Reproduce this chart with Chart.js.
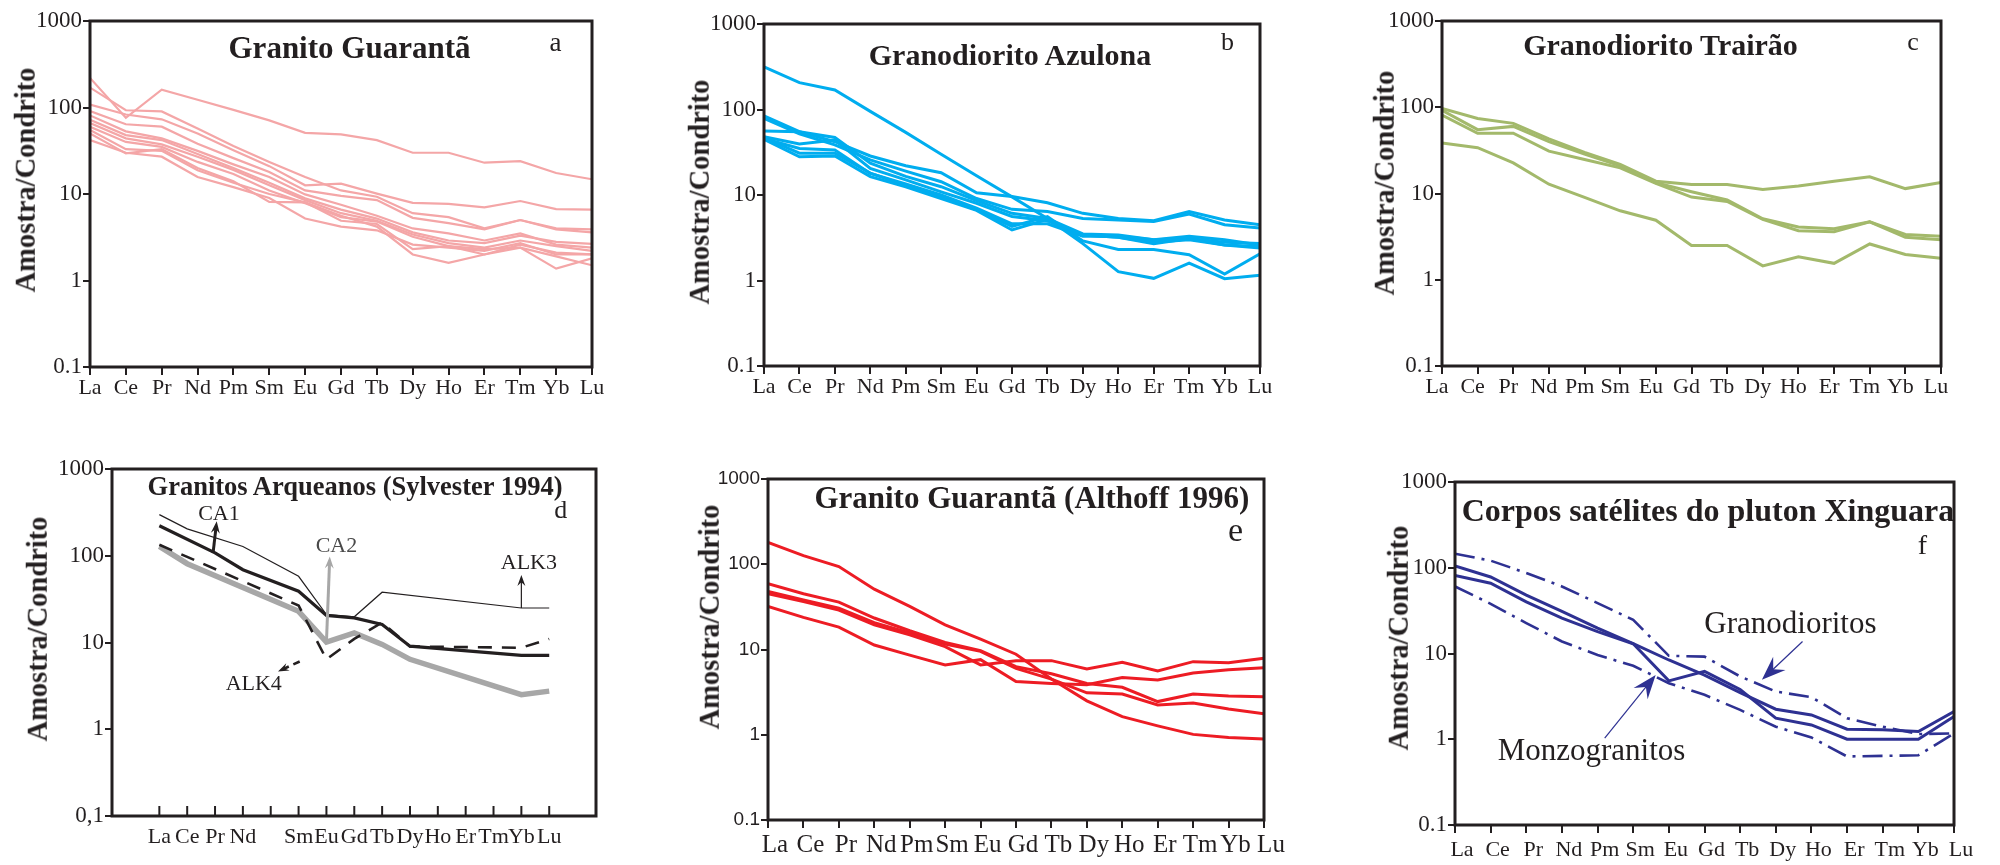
<!DOCTYPE html>
<html lang="pt">
<head>
<meta charset="utf-8">
<title>Padrões de ETR normalizados ao condrito</title>
<script src="https://cdn.jsdelivr.net/npm/chart.js@4.4.1/dist/chart.umd.min.js"></script>
<style>
  html, body { margin: 0; padding: 0; background: #fff; }
  body { width: 2000px; height: 865px; position: relative; overflow: hidden; }
  .panel { position: absolute; }
  .panel canvas { display: block; }
  .txt {
    position: absolute; white-space: nowrap; line-height: 1; color: #231f20;
    font-family: "Liberation Serif", "Times New Roman", Times, serif;
    transform: translate(-50%, -50%);
  }
  .txt.bold { font-weight: bold; }
  .txt.vert { transform: translate(-50%, -50%) rotate(-90deg); font-weight: bold; }
</style>
</head>
<body>
<script>
// ---- Rare earth elements (x categories) and y-axis decades ----
const REE = ['La', 'Ce', 'Pr', 'Nd', 'Pm', 'Sm', 'Eu', 'Gd', 'Tb', 'Dy', 'Ho', 'Er', 'Tm', 'Yb', 'Lu'];
const REE_SYLVESTER = ['La', 'Ce', 'Pr', 'Nd', '', 'Sm', 'Eu', 'Gd', 'Tb', 'Dy', 'Ho', 'Er', 'Tm', 'Yb', 'Lu'];
const Y_DECADES = [0.1, 1, 10, 100, 1000];

// ---- (a) Granito Guarantã ----
const guaranta = [
  [220, 76, 161, 123, 94, 71, 51, 49, 42, 30, 30, 23, 24, 17.5, 14.8],
  [170, 93, 90, 57, 36, 23.5, 15.7, 11, 9.3, 6.0, 5.4, 4.0, 5.0, 3.9, 3.6],
  [108, 83, 73, 50, 32, 21, 12.6, 13.2, 10.1, 7.9, 7.7, 7.0, 8.3, 6.7, 6.6],
  [91, 64, 60, 38, 26, 18, 11, 9.5, 8.5, 5.3, 4.6, 3.9, 5.0, 4.0, 3.9],
  [81, 53, 44, 31.5, 22, 15.7, 9.9, 7.5, 5.6, 4.0, 3.5, 2.9, 3.5, 2.6, 2.4],
  [72, 48, 42, 29, 20, 13.5, 8.9, 6.6, 5.2, 3.6, 2.9, 2.7, 3.3, 2.8, 2.65],
  [66, 44, 37.5, 27, 19, 12.6, 8.5, 6.0, 4.9, 3.4, 2.7, 2.4, 2.9, 2.5, 2.2],
  [60, 40, 35, 23.5, 17, 11, 7.8, 5.4, 4.8, 3.2, 2.5, 2.0, 2.6, 2.1, 2.0],
  [55, 33, 31.5, 18.8, 13.5, 10, 8.0, 4.9, 4.5, 2.3, 2.5, 2.3, 2.4, 1.37, 1.8],
  [50, 29.5, 33, 20, 14, 8.1, 8.0, 5.6, 4.2, 2.0, 1.6, 2.0, 2.4, 1.9, 1.5],
  [42, 30, 27, 15.7, 12, 9.0, 5.2, 4.2, 3.8, 2.6, 2.4, 2.2, 2.7, 2.0, 2.0]
];

// ---- (b) Granodiorito Azulona ----
const azulona = [
  [316, 206, 169, 95, 54, 30, 16.8, 9.5, 5.3, 2.7, 1.27, 1.06, 1.6, 1.05, 1.15],
  [84, 55, 42, 28.6, 22, 18.2, 10.6, 9.6, 8.1, 6.1, 5.3, 5.0, 6.4, 5.1, 4.5],
  [79, 52, 38.5, 25.7, 19, 14.3, 9.1, 6.8, 6.4, 5.3, 5.1, 4.9, 6.0, 4.5, 4.1],
  [56, 55, 47, 23.5, 16.5, 12.5, 8.6, 6.1, 5.3, 3.5, 3.4, 3.0, 3.3, 3.0, 2.6],
  [48, 39.4, 44, 20.5, 15, 10.9, 8.0, 5.6, 5.0, 3.4, 3.2, 2.8, 3.0, 2.6, 2.5],
  [46, 35, 33.6, 17.9, 13.5, 10, 7.0, 4.6, 4.6, 3.3, 3.3, 3.0, 3.1, 2.8, 2.7],
  [44.8, 28, 28.6, 16.4, 12.5, 9.1, 6.6, 3.9, 5.2, 3.4, 3.2, 2.7, 3.1, 2.6, 2.4],
  [47, 30.8, 30.8, 18, 13, 9.5, 6.7, 4.3, 5.6, 2.9, 2.3, 2.3, 2.0, 1.19, 2.05]
];

// ---- (c) Granodiorito Trairão ----
const trairao = [
  [97, 74, 65, 43, 30, 21.7, 13.9, 12.7, 12.7, 11.1, 12.2, 13.9, 15.6, 11.4, 13.4],
  [92, 55, 60, 40, 28.6, 20.9, 13.3, 10.5, 8.4, 5.1, 4.1, 3.9, 4.7, 3.35, 3.2],
  [81, 50, 50, 31, 24.8, 19.8, 13.1, 9.1, 8.1, 5.0, 3.7, 3.6, 4.7, 3.1, 2.9],
  [38.6, 34, 22.6, 12.8, 9.0, 6.3, 4.9, 2.5, 2.5, 1.45, 1.85, 1.55, 2.6, 1.96, 1.77]
];

// ---- (d) Granitos arqueanos (Sylvester 1994) ----
const sylvesterALK3 = [298, 204, null, 128, null, 58, 21, 19.8, 38, null, null, null, null, 25, 25];
const sylvesterCA1 = [222, null, 108, 69, null, 39, 20.5, 19.2, 16.1, 9.06, null, null, null, 7.1, 7.1];
const sylvesterALK4 = [134, null, null, null, null, 26.7, 6.4, 11, 17, 9.0, null, null, null, 8.7, 11];
const sylvesterCA2 = [128, 81, null, null, null, 22.9, 10.1, 12.9, 9.5, 6.4, null, null, null, 2.5, 2.75];

// ---- (e) Granito Guarantã (Althoff 1996) ----
const althoff = [
  [180, 126, 94, 51, 32, 19.5, 13.2, 8.8, 4.5, 2.5, 1.63, 1.27, 1.01, 0.93, 0.89],
  [59, 45, 36, 23.4, 16.6, 12.1, 9.7, 6.3, 5.2, 4.0, 3.6, 2.45, 3.0, 2.85, 2.8],
  [48, 38, 30.5, 20.7, 15.6, 11.6, 9.5, 6.0, 4.5, 3.1, 3.0, 2.24, 2.35, 2.0, 1.76],
  [45, 36.6, 29, 19.5, 14.9, 10.8, 6.6, 7.4, 7.4, 5.9, 7.1, 5.6, 7.2, 7.0, 7.9],
  [32, 23.8, 18.3, 11.3, 8.6, 6.6, 7.6, 4.2, 4.0, 3.85, 4.7, 4.4, 5.3, 5.8, 6.1]
];

// ---- (f) Corpos satélites do pluton Xinguara ----
const xinguaraDashTop = [146, 121, 87, 60.5, 38.7, 24.7, 9.4, 9.2, 5.4, 3.6, 3.1, 1.76, 1.4, 1.15, 1.17];
const xinguaraSolidTop = [105, 78, 48, 31, 19.8, 13, 8.4, 5.6, 3.5, 2.24, 1.92, 1.31, 1.29, 1.23, 2.1];
const xinguaraSolidLow = [81.5, 66, 40, 25.8, 18, 13, 4.8, 6.2, 3.8, 1.76, 1.47, 1.0, 1.0, 1.0, 1.84];
const xinguaraDashLow = [60.5, 38, 22.6, 13.8, 9.6, 7.2, 4.5, 3.3, 2.2, 1.4, 1.05, 0.63, 0.64, 0.65, 1.17];

// ---- styling ----
const INK = '#231f20';
const SERIF = '"Liberation Serif", "Times New Roman", Times, serif';
const SANS = '"Liberation Sans", Arial, Helvetica, sans-serif';
const PINK = '#f4a6a7';
const CYAN = '#00adef';
const OLIVE = '#a3b96b';
const RED = '#ed1c24';
const NAVY = '#2e3192';
const GREY = '#a7a7a7';

// Frame, inner ticks and arrow annotations, drawn in data space through the chart scales
function drawArrow(ctx, x1, y1, x2, y2, o) {
  const a = Math.atan2(y2 - y1, x2 - x1);
  const cos = Math.cos(a), sin = Math.sin(a);
  const L = o.headLen, W = o.headWid / 2;
  ctx.save();
  ctx.strokeStyle = o.color; ctx.fillStyle = o.color; ctx.lineWidth = o.width;
  ctx.setLineDash(o.dash || []);
  ctx.beginPath();
  ctx.moveTo(x1, y1);
  ctx.lineTo(x2 - cos * L * 0.6, y2 - sin * L * 0.6);
  ctx.stroke();
  ctx.setLineDash([]);
  const bx = x2 - cos * L, by = y2 - sin * L;
  const nx = x2 - cos * L * 0.65, ny = y2 - sin * L * 0.65;
  ctx.beginPath();
  ctx.moveTo(x2, y2);
  ctx.lineTo(bx - sin * W, by + cos * W);
  ctx.lineTo(nx, ny);
  ctx.lineTo(bx + sin * W, by - cos * W);
  ctx.closePath();
  ctx.fill();
  ctx.restore();
}

const framePlugin = {
  id: 'frame',
  afterDraw(chart, args, opts) {
    const { ctx, chartArea, scales } = chart;
    const { left, top, right, bottom } = chartArea;
    const xs = scales.x, ys = scales.y;
    ctx.save();
    if (opts.innerTicks) {
      ctx.strokeStyle = INK; ctx.lineWidth = 2;
      REE.forEach((_, i) => {
        const px = xs.getPixelForValue(i);
        ctx.beginPath(); ctx.moveTo(px, bottom); ctx.lineTo(px, bottom - opts.innerTicks); ctx.stroke();
      });
    }
    (opts.notes || []).forEach(n => {
      if (n.text) {
        ctx.fillStyle = n.color || INK;
        ctx.font = n.font;
        ctx.textAlign = 'center'; ctx.textBaseline = 'middle';
        ctx.fillText(n.text, xs.getPixelForValue(n.at[0]), ys.getPixelForValue(n.at[1]));
      } else {
        drawArrow(ctx,
          xs.getPixelForValue(n.from[0]), ys.getPixelForValue(n.from[1]),
          xs.getPixelForValue(n.to[0]), ys.getPixelForValue(n.to[1]), n);
      }
    });
    ctx.strokeStyle = INK; ctx.lineWidth = 3;
    ctx.strokeRect(left, top, right - left, bottom - top);
    ctx.restore();
  }
};

const PAD_L = 90, PAD_T = 20, PAD_R = 30, PAD_B = 60;

function makePanel(p) {
  const [L, T, R, B] = p.box;
  const wrap = document.createElement('div');
  wrap.className = 'panel';
  const W = R - L + PAD_L + PAD_R, H = B - T + PAD_T + PAD_B;
  wrap.style.left = (L - PAD_L) + 'px';
  wrap.style.top = (T - PAD_T) + 'px';
  const cv = document.createElement('canvas');
  cv.width = Math.round(W); cv.height = Math.round(H);
  cv.style.width = Math.round(W) + 'px'; cv.style.height = Math.round(H) + 'px';
  wrap.appendChild(cv);
  document.body.appendChild(wrap);

  new Chart(cv, {
    type: 'line',
    data: {
      datasets: p.series.map(s => ({
        data: s.values.map((v, i) => ({ x: i, y: v })),
        borderColor: s.color,
        borderWidth: s.width,
        borderDash: s.dash || [],
        borderCapStyle: 'butt',
        borderJoinStyle: 'miter',
        pointRadius: 0,
        tension: 0,
        spanGaps: true,
        fill: false
      }))
    },
    options: {
      responsive: false,
      animation: false,
      devicePixelRatio: 1,
      layout: { padding: { top: PAD_T, right: PAD_R, left: 0, bottom: 0 } },
      plugins: {
        legend: { display: false },
        tooltip: { enabled: false },
        frame: { innerTicks: p.innerTicks || 0, notes: p.notes || [] }
      },
      scales: {
        x: {
          type: 'linear',
          min: p.xRange[0], max: p.xRange[1],
          afterBuildTicks: s => { s.ticks = REE.map((_, i) => ({ value: i })); },
          afterFit: s => { s.height = PAD_B; },
          ticks: {
            autoSkip: false, maxRotation: 0, minRotation: 0,
            padding: p.xPad,
            labelOffset: p.xShift || 0,
            color: INK,
            font: { family: SERIF, size: p.xSize },
            callback: v => p.xLabels[v]
          },
          grid: {
            display: true, drawOnChartArea: false,
            drawTicks: !p.innerTicks, tickLength: 8,
            color: INK, lineWidth: 2
          },
          border: { display: false }
        },
        y: {
          type: 'logarithmic',
          min: 0.1, max: 1000,
          afterBuildTicks: s => { s.ticks = Y_DECADES.map(v => ({ value: v })); },
          afterFit: s => { s.width = PAD_L; },
          ticks: {
            padding: 1,
            color: INK,
            font: { family: p.yFamily || SERIF, size: p.ySize },
            callback: v => (v === 0.1 ? p.tenth : String(v))
          },
          grid: {
            display: true, drawOnChartArea: false,
            drawTicks: true, tickLength: 7,
            color: INK, lineWidth: 2
          },
          border: { display: false }
        }
      }
    },
    plugins: [framePlugin]
  });
}

const NOTE_FONT = '22px ' + SERIF;
const NOTE_FONT_F = '31px ' + SERIF;

const panels = [
  {
    box: [90.2, 20.7, 592, 366.7], xRange: [0, 14], xLabels: REE, xPad: 0, xSize: 22, ySize: 23, tenth: '0.1',
    series: guaranta.map(v => ({ values: v, color: PINK, width: 2.2 }))
  },
  {
    box: [764.2, 24, 1260.5, 366], xRange: [0, 14], xLabels: REE, xPad: 0, xSize: 22, ySize: 23, tenth: '0.1',
    series: azulona.map(v => ({ values: v, color: CYAN, width: 3 }))
  },
  {
    box: [1441.6, 20.7, 1940.4, 366], xRange: [0, 14], xLabels: REE, xPad: 0, xSize: 22, ySize: 23, tenth: '0.1',
    xShift: -5,
    series: trairao.map(v => ({ values: v, color: OLIVE, width: 3 }))
  },
  {
    box: [111.9, 469.3, 596.3, 816.7], xRange: [-1.70, 15.68], xLabels: REE_SYLVESTER, xPad: 8, xSize: 22, ySize: 23,
    tenth: '0,1', innerTicks: 10,
    series: [
      { values: sylvesterALK3, color: INK, width: 1.2 },
      { values: sylvesterCA1, color: INK, width: 3.2 },
      { values: sylvesterALK4, color: INK, width: 2.6, dash: [14, 10] },
      { values: sylvesterCA2, color: GREY, width: 5.5 }
    ],
    notes: [
      { from: [1.93, 108], to: [2.06, 250], color: INK, width: 3, headLen: 12, headWid: 9 },
      { text: 'CA1', at: [2.14, 298], font: NOTE_FONT },
      { from: [6.0, 10.1], to: [6.12, 98], color: GREY, width: 3, headLen: 12, headWid: 9 },
      { text: 'CA2', at: [6.36, 128.5], font: NOTE_FONT, color: '#4a4a4a' },
      { from: [13.0, 25], to: [13.0, 60], color: INK, width: 1.2, headLen: 11, headWid: 8 },
      { text: 'ALK3', at: [13.27, 82.7], font: NOTE_FONT },
      { from: [5.04, 6.04], to: [4.26, 4.63], color: INK, width: 2.6, dash: [7, 5], headLen: 11, headWid: 8 },
      { text: 'ALK4', at: [3.39, 3.28], font: NOTE_FONT }
    ]
  },
  {
    box: [767.8, 479.3, 1264, 820], xRange: [0, 14], xLabels: REE, xPad: 2, xSize: 25, ySize: 19, yFamily: SANS, tenth: '0.1',
    xShift: 7,
    series: althoff.map(v => ({ values: v, color: RED, width: 3 }))
  },
  {
    box: [1455.1, 482.3, 1954.3, 825], xRange: [0, 14], xLabels: REE, xPad: 4, xSize: 22, ySize: 23, tenth: '0.1',
    xShift: 7,
    series: [
      { values: xinguaraDashTop, color: NAVY, width: 2.6, dash: [20, 7, 3, 7] },
      { values: xinguaraSolidTop, color: NAVY, width: 3 },
      { values: xinguaraSolidLow, color: NAVY, width: 3 },
      { values: xinguaraDashLow, color: NAVY, width: 2.6, dash: [20, 7, 3, 7] }
    ],
    notes: [
      { from: [9.75, 13.8], to: [8.61, 4.93], color: NAVY, width: 1.2, headLen: 24, headWid: 18 },
      { text: 'Granodioritos', at: [9.41, 21.6], font: NOTE_FONT_F },
      { from: [4.2, 1.03], to: [5.63, 5.63], color: NAVY, width: 1.2, headLen: 24, headWid: 18 },
      { text: 'Monzogranitos', at: [3.83, 0.718], font: NOTE_FONT_F }
    ]
  }
];

panels.forEach(makePanel);

// Panel titles, panel letters and rotated axis titles
const labels = [
  { t: 'Granito Guarantã', x: 349.5, y: 47, s: 31, cls: 'bold' },
  { t: 'Granodiorito Azulona', x: 1010, y: 55, s: 30, cls: 'bold' },
  { t: 'Granodiorito Trairão', x: 1660.5, y: 45, s: 30, cls: 'bold' },
  { t: 'Granitos Arqueanos (Sylvester 1994)', x: 355, y: 486, s: 26.5, cls: 'bold' },
  { t: 'Granito Guarantã (Althoff 1996)', x: 1031.8, y: 496.7, s: 31, cls: 'bold' },
  { t: 'Corpos satélites do pluton Xinguara', x: 1708, y: 510, s: 32, cls: 'bold' },
  { t: 'a', x: 555.6, y: 42, s: 27 },
  { t: 'b', x: 1227.6, y: 41.7, s: 26 },
  { t: 'c', x: 1913, y: 42, s: 26 },
  { t: 'd', x: 560.7, y: 510, s: 26 },
  { t: 'e', x: 1235.5, y: 529.5, s: 34 },
  { t: 'f', x: 1922.4, y: 545, s: 28 },
  { t: 'Amostra/Condrito', x: 25.7, y: 180, s: 28.5, cls: 'vert' },
  { t: 'Amostra/Condrito', x: 699.8, y: 192, s: 28.5, cls: 'vert' },
  { t: 'Amostra/Condrito', x: 1384.5, y: 183, s: 28.5, cls: 'vert' },
  { t: 'Amostra/Condrito', x: 37.6, y: 629, s: 28.5, cls: 'vert' },
  { t: 'Amostra/Condrito', x: 709.7, y: 616.7, s: 28.5, cls: 'vert' },
  { t: 'Amostra/Condrito', x: 1398.8, y: 637.5, s: 28.5, cls: 'vert' }
];
labels.forEach(l => {
  const d = document.createElement('div');
  d.className = 'txt' + (l.cls ? ' ' + l.cls : '');
  d.textContent = l.t;
  d.style.left = l.x + 'px';
  d.style.top = l.y + 'px';
  d.style.fontSize = l.s + 'px';
  document.body.appendChild(d);
});
</script>
</body>
</html>
